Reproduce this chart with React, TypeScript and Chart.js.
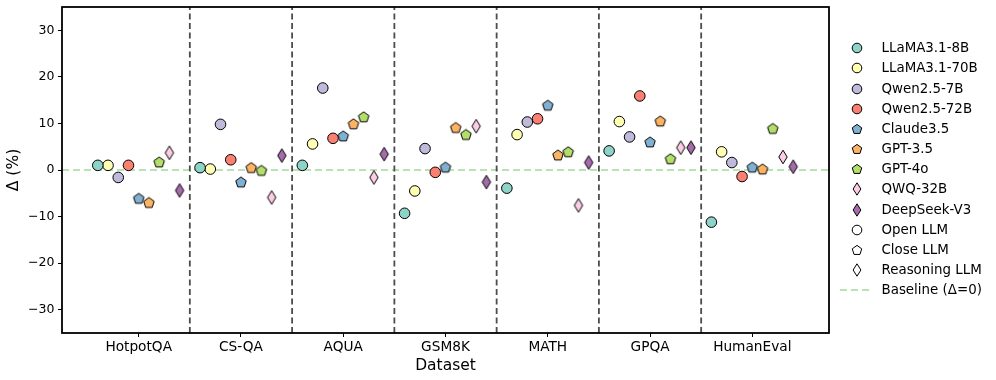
import React, { useEffect, useRef } from 'react';
import { Chart, registerables } from 'chart.js';
Chart.register(...registerables);

const categories = ['HotpotQA', 'CS-QA', 'AQUA', 'GSM8K', 'MATH', 'GPQA', 'HumanEval'];
const llama8b = [1.0, 0.5, 1.0, -9.3, -3.9, 4.1, -11.2];
const llama70b = [1.0, 0.2, 5.6, -4.5, 7.6, 10.4, 3.9];
const qwen7b = [-1.6, 9.8, 17.6, 4.6, 10.3, 7.1, 1.6];
const qwen72b = [1.0, 2.2, 6.8, -0.5, 11.0, 15.9, -1.4];
const claude35 = [-6.1, -2.6, 7.3, 0.6, 13.9, 6.0, 0.6];
const gpt35 = [-7.0, 0.5, 9.9, 9.1, 3.2, 10.5, 0.2];
const gpt4o = [1.7, -0.1, 11.4, 7.6, 3.9, 2.4, 8.9];
const qwq32b = [3.7, -5.9, -1.6, 9.4, -7.6, 4.8, 2.8];
const deepseekV3 = [-4.4, 3.1, 3.4, -2.6, 1.6, 4.8, 0.7];
const yTicks = [-30, -20, -10, 0, 10, 20, 30];

type Kind = 'open' | 'close' | 'reasoning';
const models: { name: string; values: number[]; color: string; kind: Kind }[] = [
  { name: 'LLaMA3.1-8B', values: llama8b, color: '#8dd3c7', kind: 'open' },
  { name: 'LLaMA3.1-70B', values: llama70b, color: '#ffffb3', kind: 'open' },
  { name: 'Qwen2.5-7B', values: qwen7b, color: '#bebada', kind: 'open' },
  { name: 'Qwen2.5-72B', values: qwen72b, color: '#fb8072', kind: 'open' },
  { name: 'Claude3.5', values: claude35, color: '#80b1d3', kind: 'close' },
  { name: 'GPT-3.5', values: gpt35, color: '#fdb462', kind: 'close' },
  { name: 'GPT-4o', values: gpt4o, color: '#b3de69', kind: 'close' },
  { name: 'QWQ-32B', values: qwq32b, color: '#fccde5', kind: 'reasoning' },
  { name: 'DeepSeek-V3', values: deepseekV3, color: '#a66bac', kind: 'reasoning' },
];
const proxies: { name: string; kind: Kind }[] = [
  { name: 'Open LLM', kind: 'open' },
  { name: 'Close LLM', kind: 'close' },
  { name: 'Reasoning LLM', kind: 'reasoning' },
];
const baselineLabel = 'Baseline (Δ=0)';

const FONT = "'DejaVu Sans', sans-serif";
const CIRCLE_R = 5.3;
const PENT_R = 5.5;
const DIA_H = 6.8;
const DIA_W = 4.2;
const BASE_COLOR = '#b9e2b5';

function pentPoints(cx: number, cy: number, r: number) {
  const pts: [number, number][] = [];
  for (let k = 0; k < 5; k++) {
    const a = -Math.PI / 2 + (k * 2 * Math.PI) / 5;
    pts.push([cx + r * Math.cos(a), cy + r * Math.sin(a)]);
  }
  return pts;
}

function makeMarker(kind: Kind, fill: string): HTMLCanvasElement {
  const size = 16;
  const c = document.createElement('canvas');
  c.width = size;
  c.height = size;
  const ctx = c.getContext('2d')!;
  const cx = size / 2;
  const cy = size / 2;
  ctx.beginPath();
  if (kind === 'close') {
    const pts = pentPoints(cx, cy + 0.4, PENT_R);
    pts.forEach(([x, y], i) => (i === 0 ? ctx.moveTo(x, y) : ctx.lineTo(x, y)));
  } else {
    ctx.moveTo(cx, cy - DIA_H);
    ctx.lineTo(cx + DIA_W, cy);
    ctx.lineTo(cx, cy + DIA_H);
    ctx.lineTo(cx - DIA_W, cy);
  }
  ctx.closePath();
  ctx.fillStyle = fill;
  ctx.fill();
  ctx.lineWidth = 1;
  ctx.strokeStyle = '#000';
  ctx.stroke();
  return c;
}

function LegendMarker({ kind, fill }: { kind: Kind; fill: string }) {
  const cx = 10;
  const cy = 10;
  if (kind === 'open') {
    return (
      <svg width={20} height={20}>
        <circle cx={cx} cy={cy} r={4.8} fill={fill} stroke="#000" strokeWidth={1} />
      </svg>
    );
  }
  if (kind === 'close') {
    const pts = pentPoints(cx, cy + 0.4, 5.0).map((p) => p.join(',')).join(' ');
    return (
      <svg width={20} height={20}>
        <polygon points={pts} fill={fill} stroke="#000" strokeWidth={1} />
      </svg>
    );
  }
  const pts = [
    [cx, cy - 6.2],
    [cx + 3.9, cy],
    [cx, cy + 6.2],
    [cx - 3.9, cy],
  ]
    .map((p) => p.join(','))
    .join(' ');
  return (
    <svg width={20} height={20}>
      <polygon points={pts} fill={fill} stroke="#000" strokeWidth={1} />
    </svg>
  );
}

const framePlugin = {
  id: 'frame',
  afterDraw(chart: any) {
    const { ctx, chartArea } = chart;
    ctx.save();
    ctx.strokeStyle = '#000';
    ctx.lineWidth = 1.8;
    ctx.strokeRect(chartArea.left, chartArea.top, chartArea.right - chartArea.left, chartArea.bottom - chartArea.top);
    ctx.restore();
  },
};

export default function App() {
  const ref = useRef<HTMLCanvasElement>(null);

  useEffect(() => {
    if (!ref.current) return;
    const xMin = -0.75;
    const xMax = categories.length - 0.25;

    const pointSets = models.map((m, mi) => {
      const off = (mi - (models.length - 1) / 2) * 0.1;
      const style = m.kind === 'open' ? 'circle' : makeMarker(m.kind, m.color);
      return {
        type: 'scatter' as const,
        label: m.name,
        data: m.values.map((v, i) => ({ x: i + off, y: v })),
        pointStyle: style as any,
        pointRadius: CIRCLE_R,
        pointBackgroundColor: m.color,
        pointBorderColor: '#000',
        pointBorderWidth: 1,
        showLine: false,
        order: 1,
      };
    });

    const separatorSets = categories.slice(0, -1).map((_, i) => ({
      type: 'scatter' as const,
      label: 'sep' + i,
      data: [
        { x: i + 0.5, y: -35 },
        { x: i + 0.5, y: 35 },
      ],
      showLine: true,
      borderColor: '#4d4d4d',
      borderWidth: 1.8,
      borderDash: [6, 3.5],
      pointRadius: 0,
      order: 10,
    }));

    const baselineSet = {
      type: 'scatter' as const,
      label: baselineLabel,
      data: [
        { x: xMin, y: 0 },
        { x: xMax, y: 0 },
      ],
      showLine: true,
      borderColor: BASE_COLOR,
      borderWidth: 2,
      borderDash: [7, 4],
      pointRadius: 0,
      order: 11,
    };

    const chart = new Chart(ref.current, {
      type: 'scatter',
      data: { datasets: [...pointSets, ...separatorSets, baselineSet] as any },
      options: {
        animation: false,
        responsive: false,
        devicePixelRatio: 1,
        layout: { padding: { left: 0, right: 167, top: 7, bottom: 0 } },
        plugins: { legend: { display: false }, tooltip: { enabled: false } },
        scales: {
          x: {
            type: 'linear',
            min: xMin,
            max: xMax,
            afterFit(scale: any) {
              scale.height = 47;
              scale.paddingLeft = 0;
              scale.paddingRight = 0;
            },
            afterBuildTicks(scale: any) {
              scale.ticks = categories.map((_, i) => ({ value: i }));
            },
            ticks: {
              callback: (v: any) => categories[Math.round(Number(v))] ?? '',
              font: { family: FONT, size: 13.7 },
              color: '#000',
              padding: 2,
              maxRotation: 0,
              autoSkip: false,
            },
            grid: { drawOnChartArea: false, drawTicks: true, tickLength: 4, color: '#000', tickWidth: 1 },
            border: { display: false },
            title: {
              display: true,
              text: 'Dataset',
              font: { family: FONT, size: 15.5 },
              color: '#000',
              padding: { top: 0, bottom: 5 },
            },
          },
          y: {
            type: 'linear',
            min: -35,
            max: 35,
            afterFit(scale: any) {
              scale.width = 62;
              scale.paddingTop = 0;
              scale.paddingBottom = 0;
            },
            afterBuildTicks(scale: any) {
              scale.ticks = yTicks.map((v) => ({ value: v }));
            },
            ticks: {
              callback: (v: any) => (Number(v) < 0 ? '\u2212' + Math.abs(Number(v)) : String(v)),
              font: { family: FONT, size: 12.5 },
              color: '#000',
              padding: 3.5,
            },
            grid: { drawOnChartArea: false, drawTicks: true, tickLength: 4, color: '#000', tickWidth: 1 },
            border: { display: false },
            title: {
              display: true,
              text: 'Δ (%)',
              font: { family: FONT, size: 15.5 },
              color: '#000',
              padding: { top: 4.5, bottom: 0 },
            },
          },
        },
      },
      plugins: [framePlugin],
    });
    return () => chart.destroy();
  }, []);

  const legendRows: { key: string; node: React.ReactNode; label: string }[] = [
    ...models.map((m) => ({ key: m.name, label: m.name, node: <LegendMarker kind={m.kind} fill={m.color} /> })),
    ...proxies.map((p) => ({ key: p.name, label: p.name, node: <LegendMarker kind={p.kind} fill="#ffffff" /> })),
    {
      key: 'baseline',
      label: baselineLabel,
      node: (
        <svg width={30} height={20}>
          <line x1={0} y1={10} x2={29} y2={10} stroke={BASE_COLOR} strokeWidth={2} strokeDasharray="7 4" />
        </svg>
      ),
    },
  ];

  return (
    <div style={{ position: 'fixed', left: 0, top: 0, width: 996, height: 380, background: '#fff' }}>
      <canvas ref={ref} width={996} height={380} style={{ position: 'absolute', left: 0, top: 0 }} />
      {legendRows.map((r, i) => {
        const cy = 48.3 + i * 20.15;
        const isBase = r.key === 'baseline';
        return (
          <div
            key={r.key}
            style={{
              position: 'absolute',
              left: 0,
              top: cy - 10,
              height: 20,
              width: 996,
              fontFamily: FONT,
              fontSize: 13.4,
              color: '#000',
              whiteSpace: 'nowrap',
            }}
          >
            <div style={{ position: 'absolute', left: isBase ? 840 : 847, top: 0, height: 20 }}>{r.node}</div>
            <div style={{ position: 'absolute', left: 881.5, top: 0, height: 20, lineHeight: '20px' }}>{r.label}</div>
          </div>
        );
      })}
    </div>
  );
}
